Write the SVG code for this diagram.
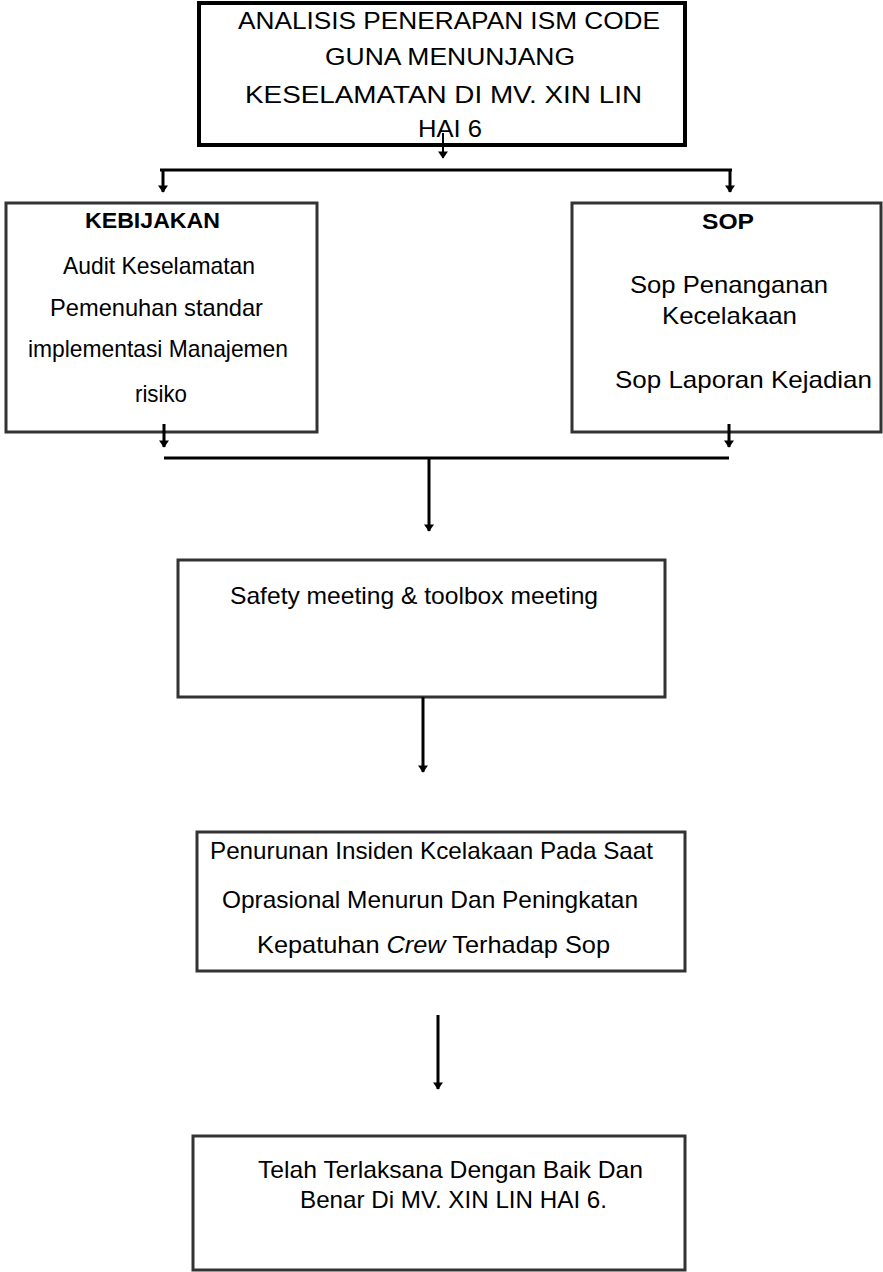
<svg xmlns="http://www.w3.org/2000/svg" width="883" height="1272" viewBox="0 0 883 1272">
<defs>
<style>
.box{fill:#fff;stroke:#333;stroke-width:3}
.top{fill:#fff;stroke:#000;stroke-width:4}
.t{font-family:"Liberation Sans",Arial,sans-serif;font-size:24px;fill:#000}
.b{font-weight:bold}
.c{fill:none;stroke:#000;stroke-width:3}
</style>
<marker id="ad" markerUnits="userSpaceOnUse" markerWidth="14" markerHeight="10" refX="9" refY="7" orient="auto" viewBox="0 0 10 14">
<path d="M0,0 L10,7 L0,14 Z" fill="#000"/>
</marker>
</defs>
<rect width="883" height="1272" fill="#fff"/>
<g id="n-title">
<rect class="top" x="199" y="3" width="486" height="142"/>
<text class="t" x="238" y="29" textLength="422" lengthAdjust="spacingAndGlyphs">ANALISIS PENERAPAN ISM CODE</text>
<text class="t" x="325" y="65" textLength="250" lengthAdjust="spacingAndGlyphs">GUNA MENUNJANG</text>
<text class="t" x="245" y="103" textLength="397" lengthAdjust="spacingAndGlyphs">KESELAMATAN DI MV. XIN LIN</text>
<text class="t" x="418" y="137" textLength="64" lengthAdjust="spacingAndGlyphs">HAI 6</text>
</g>
<g id="n-kebijakan">
<rect class="box" x="6" y="203" width="311" height="229"/>
<text class="t b" style="font-size:22px" x="85" y="228" textLength="135" lengthAdjust="spacingAndGlyphs">KEBIJAKAN</text>
<text class="t" x="63" y="274" textLength="192" lengthAdjust="spacingAndGlyphs">Audit Keselamatan</text>
<text class="t" x="50" y="316" textLength="213" lengthAdjust="spacingAndGlyphs">Pemenuhan standar</text>
<text class="t" x="28" y="357" textLength="260" lengthAdjust="spacingAndGlyphs">implementasi Manajemen</text>
<text class="t" x="135" y="402" textLength="52" lengthAdjust="spacingAndGlyphs">risiko</text>
</g>
<g id="n-sop">
<rect class="box" x="572" y="203" width="309" height="229"/>
<text class="t b" style="font-size:22px" x="702" y="229" textLength="52" lengthAdjust="spacingAndGlyphs">SOP</text>
<text class="t" x="630" y="293" textLength="198" lengthAdjust="spacingAndGlyphs">Sop Penanganan</text>
<text class="t" x="662" y="324" textLength="135" lengthAdjust="spacingAndGlyphs">Kecelakaan</text>
<text class="t" x="615" y="388" textLength="257" lengthAdjust="spacingAndGlyphs">Sop Laporan Kejadian</text>
</g>
<g id="n-safety">
<rect class="box" x="178" y="560" width="487" height="137"/>
<text class="t" x="230" y="604" textLength="368" lengthAdjust="spacingAndGlyphs">Safety meeting &amp; toolbox meeting</text>
</g>
<g id="n-penurunan">
<rect class="box" x="197" y="832" width="488" height="139"/>
<text class="t" x="210" y="859" textLength="443" lengthAdjust="spacingAndGlyphs">Penurunan Insiden Kcelakaan Pada Saat</text>
<text class="t" x="222" y="908" textLength="416" lengthAdjust="spacingAndGlyphs">Oprasional Menurun Dan Peningkatan</text>
<text class="t" x="257" y="953" textLength="353" lengthAdjust="spacingAndGlyphs">Kepatuhan <tspan font-style="italic">Crew</tspan> Terhadap Sop</text>
</g>
<g id="n-telah">
<rect class="box" x="193" y="1136" width="492" height="134"/>
<text class="t" x="258" y="1178" textLength="385" lengthAdjust="spacingAndGlyphs">Telah Terlaksana Dengan Baik Dan</text>
<text class="t" x="300" y="1208" textLength="307" lengthAdjust="spacingAndGlyphs">Benar Di MV. XIN LIN HAI 6.</text>
</g>
<g id="connectors">
<path class="c" style="stroke-width:2" d="M443,133 V158" marker-end="url(#ad)"/>
<path class="c" d="M160,170 H732"/>
<path class="c" d="M163,170 V192" marker-end="url(#ad)"/>
<path class="c" d="M730,170 V192" marker-end="url(#ad)"/>
<path class="c" d="M164,424 V447" marker-end="url(#ad)"/>
<path class="c" d="M729,424 V447" marker-end="url(#ad)"/>
<path class="c" d="M164,458 H729"/>
<path class="c" d="M429,458 V531" marker-end="url(#ad)"/>
<path class="c" d="M423,697 V772" marker-end="url(#ad)"/>
<path class="c" d="M438,1015 V1089" marker-end="url(#ad)"/>
</g>
</svg>
